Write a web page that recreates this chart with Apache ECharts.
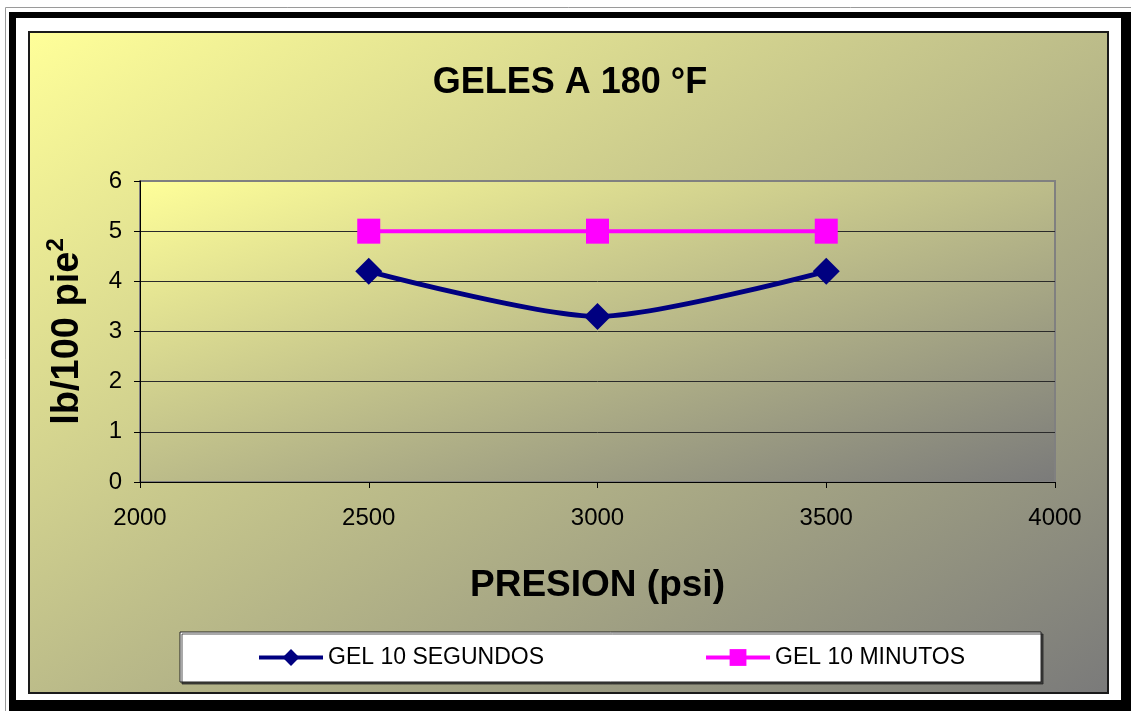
<!DOCTYPE html>
<html>
<head>
<meta charset="utf-8">
<title>GELES A 180 °F</title>
<script src="https://cdn.jsdelivr.net/npm/echarts@6/dist/echarts.min.js"></script>
<style>
  html, body { margin: 0; padding: 0; background: #ffffff; }
  #chart { width: 1131px; height: 711px; }
</style>
</head>
<body>
<div id="chart"></div>
<script>
// Pressure readings (psi) and gel strengths (lb/100 pie²)
const presion = [2500, 3000, 3500];
const gel10Segundos = [4.2, 3.3, 4.2];
const gel10Minutos = [5, 5, 5];

const seriesNames = ['GEL 10 SEGUNDOS', 'GEL 10 MINUTOS'];
const xRange = { min: 2000, max: 4000, interval: 500 };
const yRange = { min: 0, max: 6, interval: 1 };

const FONT = "'Liberation Sans', Arial, sans-serif";

// Diagonal two-colour fill; the end point is chosen so that the colour
// bands run parallel to the box's other diagonal (corner to corner).
function diagonalFill(w, h) {
  const k = 2 * w * h / (w * w + h * h);
  return {
    type: 'linear', x: 0, y: 0,
    x2: (h * k) / w, y2: (w * k) / h,
    colorStops: [
      { offset: 0, color: '#FFFF99' },
      { offset: 1, color: '#7A7A7A' }
    ]
  };
}

const chart = echarts.init(document.getElementById('chart'), null, { renderer: 'canvas' });

chart.setOption({
  backgroundColor: '#ffffff',
  animation: false,
  graphic: [
    // page frame: thin outer rule, heavy black band, white margin
    { type: 'rect', z: -30, silent: true,
      shape: { x: 5.5, y: 7.5, width: 1140, height: 720 },
      style: { fill: 'none', stroke: '#9a9a9a', lineWidth: 1 } },
    { type: 'rect', z: -29, silent: true,
      shape: { x: 9, y: 12, width: 1140, height: 720 },
      style: { fill: '#000000' } },
    { type: 'rect', z: -28, silent: true,
      shape: { x: 16, y: 18, width: 1105, height: 682 },
      style: { fill: '#ffffff' } },
    // chart area
    { type: 'rect', z: -27, silent: true,
      shape: { x: 29, y: 32, width: 1079, height: 661 },
      style: { fill: diagonalFill(1079, 661), stroke: '#1a1a1a', lineWidth: 2 } }
  ],
  title: {
    text: 'GELES A 180 °F',
    left: 565,
    top: 60,
    textAlign: 'center',
    textStyle: { fontFamily: FONT, fontSize: 36, fontWeight: 'bold', color: '#000000' }
  },
  grid: {
    left: 140, right: 76, top: 181, bottom: 229,
    show: true,
    backgroundColor: diagonalFill(915, 301),
    borderColor: '#808080',
    borderWidth: 2
  },
  legend: {
    left: 180,
    top: 632,
    padding: [14, 76, 13, 77],
    itemGap: 160,
    itemWidth: 64,
    itemHeight: 21,
    backgroundColor: '#ffffff',
    borderColor: '#222222',
    borderWidth: 1,
    borderRadius: 0,
    shadowColor: 'rgba(40,40,40,0.8)',
    shadowOffsetX: 2,
    shadowOffsetY: 2,
    shadowBlur: 0,
    lineStyle: { width: 4 },
    textStyle: { fontFamily: FONT, fontSize: 23, color: '#000000' },
    data: seriesNames
  },
  xAxis: {
    type: 'value',
    min: xRange.min, max: xRange.max, interval: xRange.interval,
    name: 'PRESION (psi)',
    nameLocation: 'middle',
    nameGap: 85,
    nameTextStyle: { fontFamily: FONT, fontSize: 37, fontWeight: 'bold', color: '#000000' },
    axisLine: { show: true, onZero: false, lineStyle: { color: '#000000', width: 1 } },
    axisTick: { show: true, inside: false, length: 6, lineStyle: { color: '#000000' } },
    axisLabel: { margin: 24, fontFamily: FONT, fontSize: 24, color: '#000000',
      formatter: v => String(v) },
    splitLine: { show: false }
  },
  yAxis: {
    type: 'value',
    min: yRange.min, max: yRange.max, interval: yRange.interval,
    name: 'lb/100 pie{sup|2}',
    nameLocation: 'middle',
    nameGap: 48,
    nameRotate: 90,
    nameTextStyle: {
      fontFamily: FONT, fontSize: 38, fontWeight: 'bold', color: '#000000',
      rich: {
        sup: { fontFamily: FONT, fontSize: 24, fontWeight: 'bold', color: '#000000', padding: [0, 0, 24, 0] }
      }
    },
    axisLine: { show: true, lineStyle: { color: '#000000', width: 1 } },
    axisTick: { show: true, inside: false, length: 6, lineStyle: { color: '#000000' } },
    axisLabel: { margin: 18, fontFamily: FONT, fontSize: 24, color: '#000000',
      formatter: v => String(v) },
    splitLine: { show: true, showMinLine: false, showMaxLine: false, lineStyle: { color: '#2a2a2a', width: 1 } }
  },
  series: [
    {
      name: seriesNames[0],
      type: 'line',
      smooth: 0.25,
      data: presion.map((p, i) => [p, gel10Segundos[i]]),
      symbol: 'diamond',
      symbolSize: 27,
      lineStyle: { color: '#000080', width: 5 },
      itemStyle: { color: '#000080' },
      z: 3
    },
    {
      name: seriesNames[1],
      type: 'line',
      data: presion.map((p, i) => [p, gel10Minutos[i]]),
      symbol: 'rect',
      symbolSize: [23, 25],
      lineStyle: { color: '#FF00FF', width: 4 },
      itemStyle: { color: '#FF00FF' },
      z: 2
    }
  ]
});
</script>
</body>
</html>
